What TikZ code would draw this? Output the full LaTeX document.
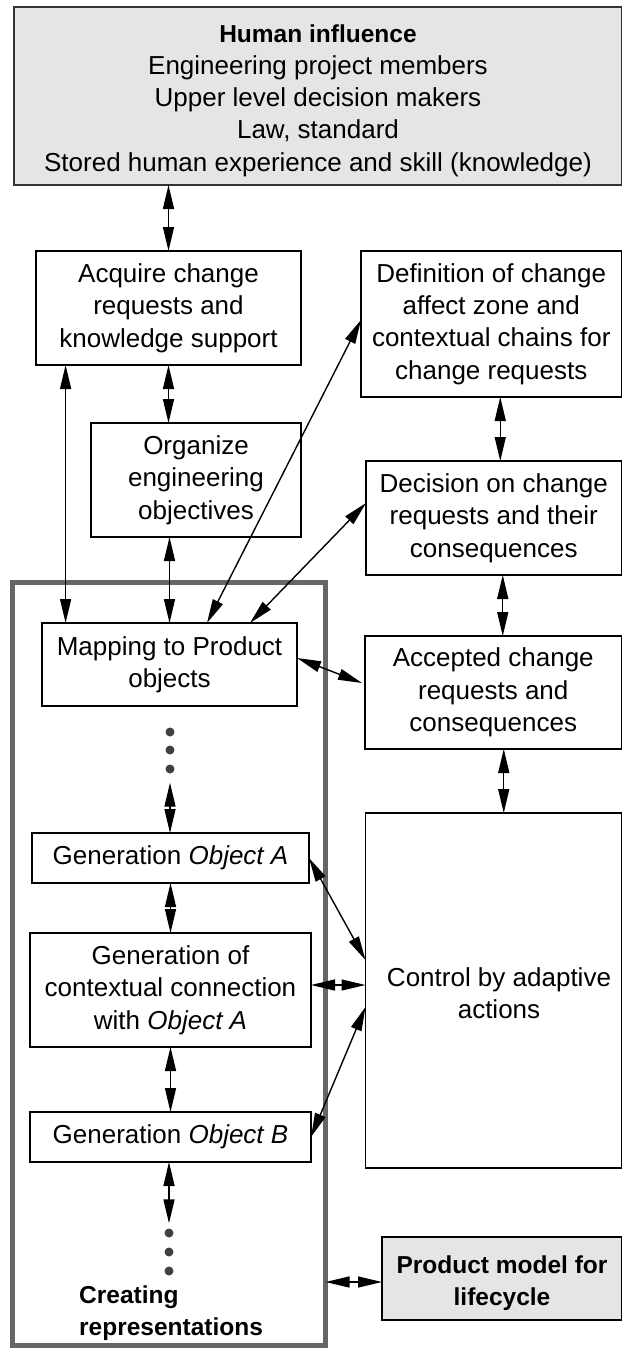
\documentclass[tikz,border=0pt]{standalone}
\usepackage{fontspec}
\setmainfont{Liberation Sans}
\usetikzlibrary{arrows.meta}

\newcommand{\bodyfont}{\fontsize{26}{32.3}\selectfont}
\newcommand{\headfont}{\fontsize{24.5}{32.3}\selectfont\bfseries}

\begin{document}
\begin{tikzpicture}[x=1pt, y=-1pt,
  box/.style={draw=black, line width=1.8pt, inner sep=0pt, outer sep=0pt,
    align=center, font=\bodyfont},
  shaded/.style={box, fill=black!10, draw=black!80},
  txt/.style={align=center, inner sep=0pt, font=\bodyfont},
  frame/.style={draw=black!60, line width=5pt, inner sep=0pt, outer sep=0pt},
  dot/.style={circle, fill=black!75, inner sep=0pt, minimum size=9pt},
  conn/.style={line width=1.4pt, {Triangle[length=24pt,width=11pt]}-{Triangle[length=24pt,width=11pt]}}
]
\fill[white] (0,0) rectangle (623,1351);
\useasboundingbox (0,0) rectangle (623,1351);

% grey frame around the representation steps
\node[frame, minimum width=313pt, minimum height=763pt] (frame) at (169,964) {};

% boxes
\node[shaded, minimum width=607.5pt, minimum height=178pt] (human) at (317.75,96) {};
\node[txt] (humantext) at (318,100.5)
  {{\headfont Human influence}\\Engineering project members\\Upper level decision makers\\Law, standard\\Stored human experience and skill (knowledge)};
\node[box, minimum width=265pt, minimum height=114pt] (acquire) at (168.5,308)
  {Acquire change\\requests and\\knowledge support};
\node[box, minimum width=260.5pt, minimum height=146pt] (definition) at (491.25,324)
  {Definition of change\\affect zone and\\contextual chains for\\change requests};
\node[box, minimum width=210pt, minimum height=114pt] (organize) at (196,480)
  {Organize\\engineering\\objectives};
\node[box, minimum width=255.5pt, minimum height=114pt] (decision) at (493.75,518)
  {Decision on change\\requests and their\\consequences};
\node[box, minimum width=255pt, minimum height=83pt] (mapping) at (169.5,664.5)
  {Mapping to Product\\objects};
\node[box, minimum width=256.5pt, minimum height=113pt] (accepted) at (493.25,692.5)
  {Accepted change\\requests and\\consequences};
\node[box, minimum width=277pt, minimum height=50pt] (genA) at (170.5,858)
  {Generation \textit{Object A}};
\node[box, minimum width=281pt, minimum height=114pt] (contextual) at (170.5,990)
  {Generation of\\contextual connection\\with \textit{Object A}};
\node[box, minimum width=256pt, minimum height=355pt] (control) at (493.5,990.5) {};
\node[txt] (controltext) at (499,993)
  {Control by adaptive\\actions};
\node[box, minimum width=281pt, minimum height=50pt] (genB) at (170.5,1137)
  {Generation \textit{Object B}};
\node[shaded, draw=black, minimum width=239.5pt, minimum height=83pt] (product) at (501.75,1278.5) {};
\node[txt, font=\headfont] (producttext) at (502,1283)
  {Product model for\\lifecycle};
\node[anchor=west, align=left, inner sep=0pt, font=\headfont] (creating) at (79,1313)
  {Creating\\representations};

% dots
\node[dot] (dA1) at (170,732) {};
\node[dot] (dA2) at (170,750) {};
\node[dot] (dA3) at (170,769) {};
\node[dot] (dB1) at (169,1233) {};
\node[dot] (dB2) at (169,1252) {};
\node[dot] (dB3) at (169,1271) {};

% connectors
\draw[conn] (acquire.north |- human.south) -- (acquire.north);
\draw[conn] (acquire.south) -- (acquire.south |- organize.north);
\draw[conn] ([xshift=29.6pt]acquire.south west) -- ([xshift=29.6pt]acquire.south west |- mapping.north);
\draw[conn] (mapping.north |- organize.south) -- (mapping.north);
\draw[conn] ([xshift=165pt]mapping.north west) -- ([yshift=4pt]definition.west);
\draw[conn] ([xshift=208pt]mapping.north west) -- ([yshift=15pt]decision.west);
\draw[conn] ([xshift=9pt]definition.south) -- ([xshift=9pt]definition.south |- decision.north);
\draw[conn] ([xshift=9pt]decision.south) -- ([xshift=9pt]decision.south |- accepted.north);
\draw[conn] ([yshift=6.5pt]mapping.east) -- ([xshift=-3pt,yshift=9.5pt]accepted.west);
\draw[conn] ([xshift=10.5pt]accepted.south) -- ([xshift=10.5pt]accepted.south |- control.north);
\draw[conn] ([yshift=-9pt]dA3.south) -- (dA3 |- genA.north);
\draw[conn] (genA.south) -- (genA.south |- contextual.north);
\draw[conn] (genA.east) -- ([yshift=30.5pt]control.west);
\draw[conn] ([yshift=5pt]contextual.east) -- ([yshift=5pt]contextual.east -| control.west);
\draw[conn] (genB.east) -- ([yshift=-16.5pt]control.west);
\draw[conn] (contextual.south) -- (contextual.south |- genB.north);
\draw[conn] (dB1 |- genB.south) -- ([yshift=5pt]dB1.north);
\draw[conn] ([yshift=-3.5pt]product.west -| frame.east) -- ([yshift=-3.5pt]product.west);
\end{tikzpicture}
\end{document}
